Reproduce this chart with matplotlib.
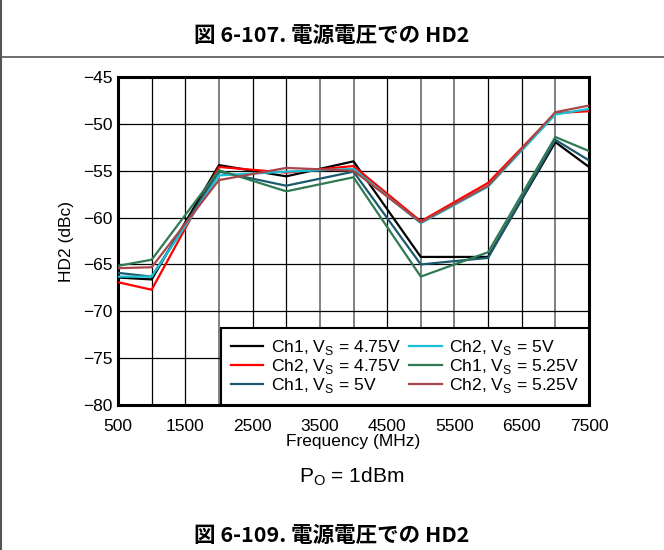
import matplotlib
matplotlib.use("Agg")
import matplotlib.pyplot as plt
from matplotlib.lines import Line2D

plt.rcParams['font.family'] = ['Liberation Sans', 'DejaVu Sans']

freq = [500, 1000, 2000, 3000, 4000, 5000, 6000, 7000, 7500]
ch1_475 = [-66.4, -66.6, -54.4, -55.6, -54.0, -64.2, -64.2, -51.95, -54.6]
ch2_475 = [-66.9, -67.7, -54.6, -55.2, -54.5, -60.4, -56.3, -48.85, -48.65]
ch1_500 = [-65.9, -66.3, -55.1, -56.6, -55.1, -65.0, -64.3, -51.7, -53.9]
ch2_500 = [-66.3, -66.3, -55.5, -55.1, -54.8, -60.6, -56.7, -49.0, -48.4]
ch1_525 = [-65.15, -64.5, -54.95, -57.2, -55.7, -66.3, -63.7, -51.4, -52.9]
ch2_525 = [-65.4, -65.3, -56.0, -54.7, -55.0, -60.5, -56.6, -48.75, -48.05]

labels = [r"Ch1, V$_\mathregular{S}$ = 4.75V", r"Ch2, V$_\mathregular{S}$ = 4.75V",
          r"Ch1, V$_\mathregular{S}$ = 5V", r"Ch2, V$_\mathregular{S}$ = 5V",
          r"Ch1, V$_\mathregular{S}$ = 5.25V", r"Ch2, V$_\mathregular{S}$ = 5.25V"]
series = [ch1_475, ch2_475, ch1_500, ch2_500, ch1_525, ch2_525]
colors = ["#000000", "#ff0000", "#1b5a6c", "#19bfd2", "#2f7a52", "#a8474b"]

xticks = [500, 1500, 2500, 3500, 4500, 5500, 6500, 7500]
yticks = [-45, -50, -55, -60, -65, -70, -75, -80]

fig = plt.figure(figsize=(6.64, 5.5), dpi=100)
ax = fig.add_axes([118/664, 1-405/550, (589-118)/664, (405-77)/550])

# grid
gray_x = [2000, 3500, 4000, 5000, 5500, 7000]
for xv in range(1000, 7500, 500):
    if xv in gray_x:
        ax.axvline(xv, color="#808080", lw=1.4, zorder=1)
    else:
        ax.axvline(xv, color="#000000", lw=0.9, zorder=1)
for yv in range(-75, -45, 5):
    ax.axhline(yv, color="#000000", lw=0.9, zorder=1)

for s, c, l in zip(series, colors, labels):
    ax.plot(freq, s, color=c, lw=1.6, label=l, zorder=3)

ax.set_xlim(500, 7500)
ax.set_ylim(-80, -45)
ax.set_xticks(xticks)
ax.set_yticks(yticks)
ax.tick_params(length=0, labelsize=12.5)
ax.tick_params(axis="x", pad=10)
ax.tick_params(axis="y", pad=4)
for sp in ax.spines.values():
    sp.set_linewidth(2.2)
ax.set_xlabel("Frequency (MHz)", fontsize=12.5, labelpad=0)
ax.set_ylabel("HD2 (dBc)", fontsize=12.5, labelpad=6)

leg = ax.legend(loc="lower right", ncol=2, fontsize=12.6, frameon=True, fancybox=False,
                edgecolor="black", framealpha=1, borderaxespad=0, handlelength=1.85,
                columnspacing=0.45, handletextpad=0.45, labelspacing=0.02, borderpad=0.55)
leg.get_frame().set_linewidth(1.5)
leg.set_zorder(5)

fig.text(0.5, 1-35/550, "図 6-107. 電源電圧での HD2", ha="center", va="center",
         fontsize=15.5, fontweight="bold", family=["Noto Sans CJK JP", "DejaVu Sans"])
fig.text(352/664, 1-477/550, r"P$_\mathregular{O}$ = 1dBm", ha="center", va="center", fontsize=15)
fig.text(0.5, 1-535/550, "図 6-109. 電源電圧での HD2", ha="center", va="center",
         fontsize=15.5, fontweight="bold", family=["Noto Sans CJK JP", "DejaVu Sans"])

fig.add_artist(Line2D([0, 1], [1-57/550, 1-57/550], color="#555555", lw=1.2, transform=fig.transFigure))
fig.add_artist(Line2D([0.001, 0.001], [0, 1], color="#555555", lw=1.5, transform=fig.transFigure))

fig.savefig("out.png", dpi=100)
